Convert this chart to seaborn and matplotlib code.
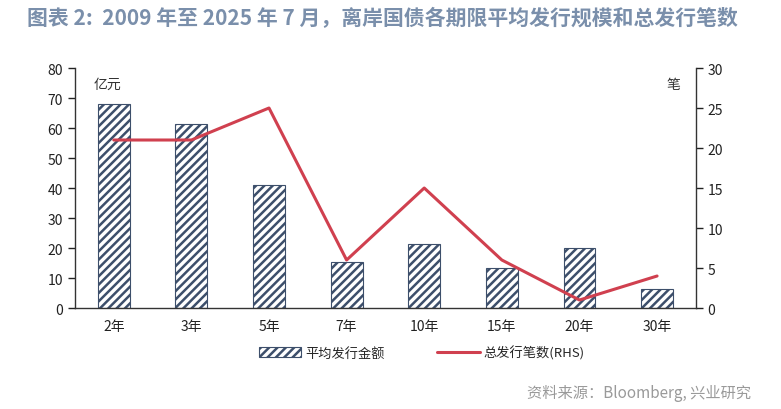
import numpy as np
import pandas as pd
import matplotlib
matplotlib.use("Agg")
import matplotlib.pyplot as plt
import seaborn as sns
from matplotlib.patches import Patch
from matplotlib.lines import Line2D

sns.set_theme(style="white")
plt.rcParams["font.family"] = ["Noto Sans CJK SC", "DejaVu Sans"]
plt.rcParams["hatch.linewidth"] = 1.8

# ── data ────────────────────────────────────────────
tenors = ["2年", "3年", "5年", "7年", "10年", "15年", "20年", "30年"]
avg_amount = [68, 61.5, 41, 15.5, 21.5, 13.5, 20, 6.5]   # 亿元
issue_count = [21, 21, 25, 6, 15, 6, 1, 4]               # 笔 (RHS)

df = pd.DataFrame({"tenor": tenors, "amount": avg_amount, "count": issue_count})

NAVY = "#3d4f6b"
RED = "#d0404f"
TITLE = "#7a8fab"

fig = plt.figure(figsize=(7.81, 4.10), dpi=100)
ax = fig.add_axes([0.096, 0.2463, 0.795, 0.5854])

sns.barplot(data=df, x="tenor", y="amount", ax=ax, color="white",
            width=0.41, edgecolor=NAVY, linewidth=0.8, saturation=1)
for p in ax.patches:
    p.set_hatch("////")
    if hasattr(p, "set_hatchcolor"):
        p.set_hatchcolor(NAVY)
        p.set_edgecolor("#9aa6b8")

ax2 = ax.twinx()
sns.lineplot(x=np.arange(len(tenors)), y=df["count"], ax=ax2,
             color=RED, linewidth=2.2)

ax.set_xlim(-0.5, len(tenors) - 0.5)
ax.set_ylim(0, 80)
ax.set_yticks(range(0, 81, 10))
ax2.set_ylim(0, 30)
ax2.set_yticks(range(0, 31, 5))
ax.set_xlabel("")
ax.set_ylabel("")
ax2.set_ylabel("")

# x ticks at category boundaries
ax.set_xticks(np.arange(len(tenors)), labels=tenors)
ax.set_xticks(np.arange(-0.5, len(tenors)), minor=True)
ax.tick_params(axis="x", which="major", length=0, pad=8, labelsize=10, colors="#222222")
ax.tick_params(axis="x", which="minor", length=5, width=1, direction="out", color="#333333")
ax.tick_params(axis="y", length=5, width=1, direction="out", labelsize=10,
               colors="#222222", left=True)
ax2.tick_params(axis="y", length=5, width=1, direction="out", labelsize=10,
                colors="#222222", right=True)

for a in (ax, ax2):
    a.spines["top"].set_visible(False)
    for s in ("left", "right", "bottom"):
        a.spines[s].set_color("#333333")
        a.spines[s].set_linewidth(1.0)
ax.spines["right"].set_visible(False)
ax2.spines["left"].set_visible(False)
ax2.spines["bottom"].set_visible(False)

ax.text(0.03, 0.935, "亿元", transform=ax.transAxes, fontsize=10,
        color="#333333", va="center", ha="left")
ax2.text(0.975, 0.935, "笔", transform=ax.transAxes, fontsize=10,
         color="#333333", va="center", ha="right")

handles = [Patch(facecolor="white", edgecolor=NAVY, hatch="////", linewidth=0.8,
                 label="平均发行金额"),
           Line2D([0], [0], color=RED, linewidth=2.2, label="总发行笔数(RHS)")]
fig.legend(handles=handles, loc="center", bbox_to_anchor=(0.54, 0.138), ncol=2,
           frameon=False, fontsize=9.5, handlelength=3.2, columnspacing=4,
           handletextpad=0.3)

fig.text(0.035, 0.955, "图表 2:  2009 年至 2025 年 7 月，离岸国债各期限平均发行规模和总发行笔数",
         fontsize=15, fontweight="bold", color=TITLE, va="center", ha="left")
fig.text(0.962, 0.04, "资料来源：Bloomberg, 兴业研究", fontsize=11,
         color="#9a9a9a", va="center", ha="right")

fig.savefig("out.png", dpi=100, facecolor="white")
